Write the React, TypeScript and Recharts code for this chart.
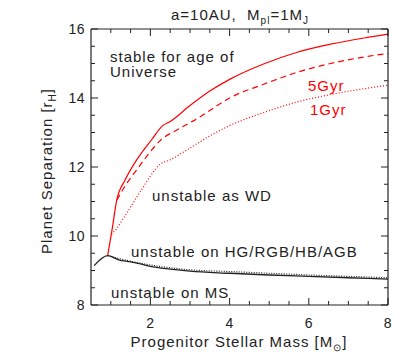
import React from 'react';
import { LineChart, Line, XAxis, YAxis } from 'recharts';

// progenitor mass [Msun] vs critical separation [r_H]
const msMass = [0.58, 0.92, 1.2, 1.5, 1.75, 2.0, 2.5, 3.0, 4.0, 5.0, 6.0, 7.0, 8.0];
const msSep = [9.14, 9.43, 9.31, 9.25, 9.19, 9.12, 9.04, 8.98, 8.92, 8.87, 8.83, 8.79, 8.75];

const giantMass = [0.92, 1.2, 1.5, 2.0, 2.5, 3.0, 4.0, 5.0, 6.0, 7.0, 8.0];
const giantSep = [9.43, 9.35, 9.27, 9.16, 9.08, 9.02, 8.97, 8.92, 8.87, 8.83, 8.79];

const ageMass = [0.92, 1.03, 1.15, 1.36, 1.65, 2.03, 2.31, 2.5, 3.0, 3.5, 4.0, 4.84, 5.69, 6.55, 7.4, 8.0];
const ageSep = [9.43, 10.17, 11.04, 11.62, 12.2, 12.79, 13.2, 13.32, 13.78, 14.2, 14.54, 14.98, 15.32, 15.56, 15.74, 15.85];

const fiveMass = [1.15, 1.4, 1.65, 1.9, 2.27, 2.68, 3.28, 3.53, 4.0, 4.84, 5.69, 6.55, 7.4, 8.0];
const fiveSep = [11.04, 11.52, 11.91, 12.3, 12.79, 13.08, 13.47, 13.66, 14.0, 14.39, 14.74, 15.0, 15.19, 15.29];

const oneMass = [1.02, 1.15, 1.34, 1.77, 2.27, 2.48, 3.0, 3.5, 4.0, 4.84, 5.69, 6.55, 7.4, 8.0];
const oneSep = [10.05, 10.22, 10.55, 11.33, 12.1, 12.2, 12.55, 12.9, 13.2, 13.57, 13.88, 14.1, 14.27, 14.37];

const xTicks = [1, 1.5, 2, 2.5, 3, 3.5, 4, 4.5, 5, 5.5, 6, 6.5, 7, 7.5, 8];
const xLabels = [2, 4, 6, 8];
const yTicks = [8, 8.5, 9, 9.5, 10, 10.5, 11, 11.5, 12, 12.5, 13, 13.5, 14, 14.5, 15, 15.5, 16];
const yLabels = [8, 10, 12, 14, 16];

const rows = (xs: number[], ys: number[]) => xs.map((m, i) => ({ m, r: ys[i] }));

const ink = '#222';
const red = '#ff0000';
const font = '"Liberation Sans", Arial, sans-serif';

const BottomTick = (props: any) => {
  const { x, y, payload } = props;
  const major = xLabels.includes(payload.value);
  return (
    <g>
      <line x1={x} y1={y} x2={x} y2={y - (major ? 7 : 4)} stroke={ink} />
      {major && (
        <text x={x} y={y + 23} textAnchor="middle" fontSize={14} fontFamily={font} fill={ink} letterSpacing={0.5}>
          {payload.value}
        </text>
      )}
    </g>
  );
};

const TopTick = (props: any) => {
  const { x, y, payload } = props;
  const major = xLabels.includes(payload.value);
  return <line x1={x} y1={y} x2={x} y2={y + (major ? 7 : 4)} stroke={ink} />;
};

const LeftTick = (props: any) => {
  const { x, y, payload } = props;
  const major = yLabels.includes(payload.value);
  return (
    <g>
      <line x1={x} y1={y} x2={x + (major ? 7 : 4)} y2={y} stroke={ink} />
      {major && (
        <text x={x - 6} y={y + 5} textAnchor="end" fontSize={14} fontFamily={font} fill={ink} letterSpacing={0.5}>
          {payload.value}
        </text>
      )}
    </g>
  );
};

const RightTick = (props: any) => {
  const { x, y, payload } = props;
  const major = yLabels.includes(payload.value);
  return <line x1={x} y1={y} x2={x - (major ? 7 : 4)} y2={y} stroke={ink} />;
};

const note = (left: number, top: number, color = ink): React.CSSProperties => ({
  position: 'absolute',
  left,
  top,
  fontSize: 15,
  lineHeight: '15px',
  letterSpacing: 1,
  whiteSpace: 'nowrap',
  color,
});

export default function App() {
  return (
    <div style={{ position: 'relative', width: 407, height: 355, fontFamily: font }}>
      <LineChart width={407} height={355} margin={{ top: 11, right: 17, bottom: 18, left: 43 }}>
        <XAxis
          xAxisId="b"
          dataKey="m"
          type="number"
          domain={[0.5, 8]}
          ticks={xTicks}
          interval={0}
          allowDataOverflow
          height={40}
          tickSize={0}
          tickMargin={0}
          tickLine={false}
          axisLine={{ stroke: ink, strokeWidth: 1.2 }}
          tick={<BottomTick />}
        />
        <XAxis
          xAxisId="t"
          dataKey="m"
          type="number"
          orientation="top"
          domain={[0.5, 8]}
          ticks={xTicks}
          interval={0}
          allowDataOverflow
          height={10}
          tickSize={0}
          tickMargin={0}
          tickLine={false}
          axisLine={{ stroke: ink, strokeWidth: 1.2 }}
          tick={<TopTick />}
        />
        <YAxis
          yAxisId="l"
          type="number"
          domain={[8, 16]}
          ticks={yTicks}
          interval={0}
          allowDataOverflow
          width={40}
          tickSize={0}
          tickMargin={0}
          tickLine={false}
          axisLine={{ stroke: ink, strokeWidth: 1.2 }}
          tick={<LeftTick />}
        />
        <YAxis
          yAxisId="r"
          orientation="right"
          type="number"
          domain={[8, 16]}
          ticks={yTicks}
          interval={0}
          allowDataOverflow
          width={10}
          tickSize={0}
          tickMargin={0}
          tickLine={false}
          axisLine={{ stroke: ink, strokeWidth: 1.2 }}
          tick={<RightTick />}
        />
        <Line xAxisId="b" yAxisId="l" data={rows(oneMass, oneSep)} dataKey="r" type="monotone" stroke={red} strokeWidth={1.2} strokeDasharray="1 2" dot={false} isAnimationActive={false} />
        <Line xAxisId="b" yAxisId="l" data={rows(fiveMass, fiveSep)} dataKey="r" type="monotone" stroke={red} strokeWidth={1.2} strokeDasharray="6 4" dot={false} isAnimationActive={false} />
        <Line xAxisId="b" yAxisId="l" data={rows(ageMass, ageSep)} dataKey="r" type="monotone" stroke={red} strokeWidth={1.2} dot={false} isAnimationActive={false} />
        <Line xAxisId="b" yAxisId="l" data={rows(giantMass, giantSep)} dataKey="r" type="monotone" stroke={ink} strokeWidth={1.2} strokeDasharray="1 1.5" dot={false} isAnimationActive={false} />
        <Line xAxisId="b" yAxisId="l" data={rows(msMass, msSep)} dataKey="r" type="monotone" stroke={ink} strokeWidth={1.3} dot={false} isAnimationActive={false} />
      </LineChart>

      <div style={{ ...note(232, -1), transform: 'translateX(-50%)' }}>
        a=10AU,&nbsp; M<sub style={{ fontSize: 10 }}>pl</sub>=1M<sub style={{ fontSize: 10 }}>J</sub>
      </div>
      <div style={{ ...note(231, 326), transform: 'translateX(-50%)' }}>
        Progenitor Stellar Mass [M<sub style={{ fontSize: 10 }}>⊙</sub>]
      </div>
      <div style={{ ...note(41, 163), transform: 'translate(-50%, -50%) rotate(-90deg)' }}>
        Planet Separation [r<sub style={{ fontSize: 10 }}>H</sub>]
      </div>

      <div style={note(102, 41)}>
        stable for age of
        <br />
        Universe
      </div>
      <div style={note(300, 70, red)}>5Gyr</div>
      <div style={note(302, 94, red)}>1Gyr</div>
      <div style={note(144, 180)}>unstable as WD</div>
      <div style={note(123, 236)}>unstable on HG/RGB/HB/AGB</div>
      <div style={note(103, 277)}>unstable on MS</div>
    </div>
  );
}
